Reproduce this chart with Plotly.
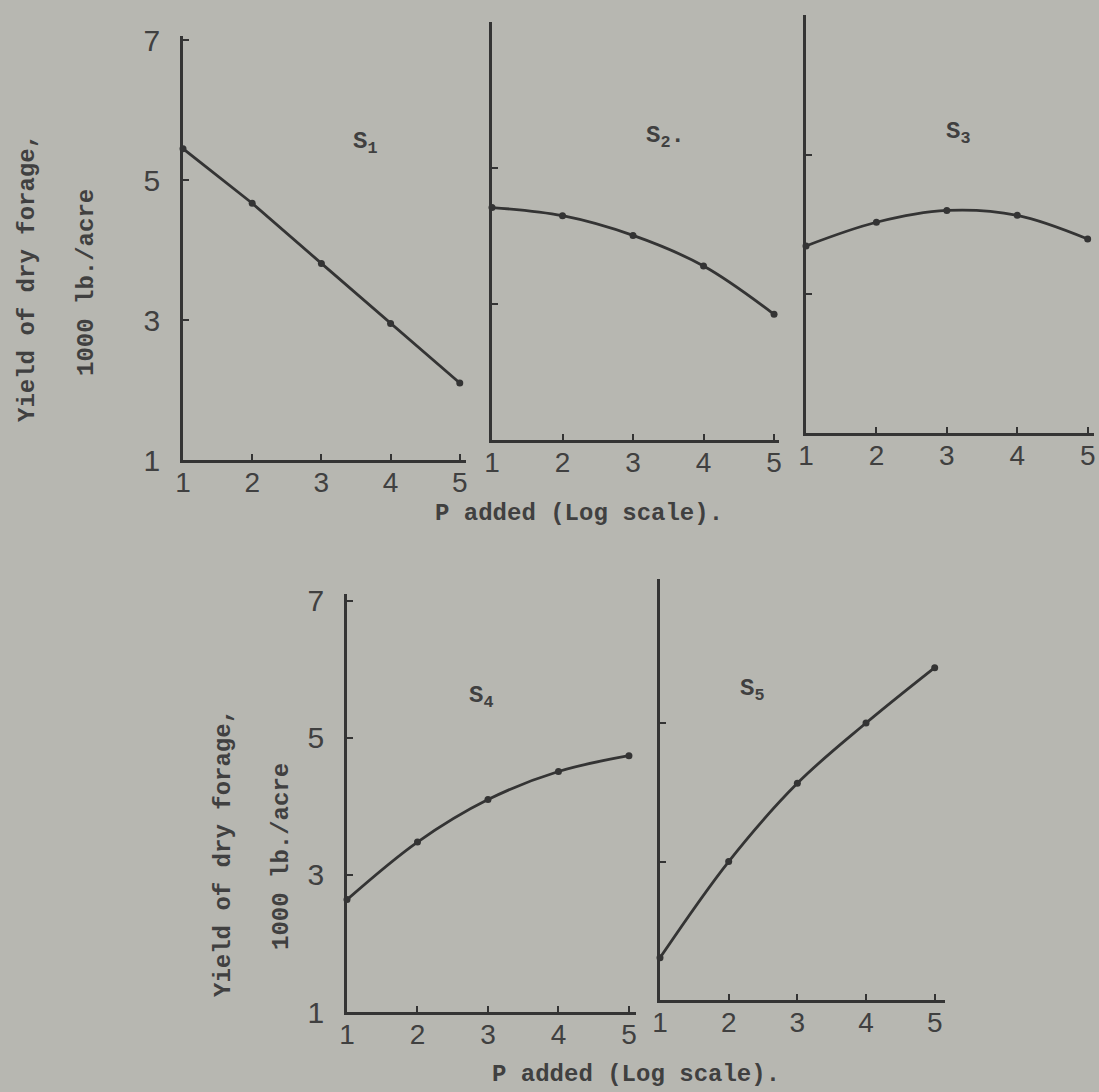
import plotly.graph_objects as go

# ---------------- data ----------------
p_added = [1, 2, 3, 4, 5]
yield_s1 = [5.45, 4.67, 3.81, 2.95, 2.10]
yield_s2 = [4.42, 4.30, 4.01, 3.56, 2.85]
yield_s3 = [3.69, 4.03, 4.20, 4.13, 3.79]
yield_s4 = [2.64, 3.48, 4.10, 4.51, 4.74]
yield_s5 = [1.61, 3.00, 4.13, 5.00, 5.80]
series_names = ["S<sub>1</sub>", "S<sub>2</sub>.", "S<sub>3</sub>", "S<sub>4</sub>", "S<sub>5</sub>"]
x_tick_vals = [1, 2, 3, 4, 5]
x_tick_text = ["1", "2", "3", "4", "5"]
y_tick_vals_labelled = [1, 3, 5, 7]
y_tick_text = ["1", "3", "5", "7"]
y_tick_vals_plain = [3, 5]
x_title = "P added (Log scale)."
y_title_1 = "Yield of dry forage,"
y_title_2 = "1000 lb./acre"

# ---------------- styling ----------------
W, H = 1099, 1092
BG = "#b7b7b1"
INK = "#343434"
TEXT = "#404040"
TYPE = "Liberation Mono"
HAND = "Liberation Sans"


def fx(px):
    return px / W


def fy(py):
    return 1 - py / H


# panel geometry in pixels: x-domain (left,right), y-domain (top,bottom), ranges
panels = [
    dict(data=yield_s1, xd=(183, 466), yd=(36, 460), xr=[1, 5.09], yr=[1, 7.06],
         labels=True, shape="linear", name_at=(365, 143)),
    dict(data=yield_s2, xd=(492, 779), yd=(22, 440), xr=[1, 5.07], yr=[1, 7.15],
         labels=False, shape="spline", name_at=(665, 137)),
    dict(data=yield_s3, xd=(806, 1094), yd=(15, 433), xr=[1, 5.09], yr=[1, 7.01],
         labels=False, shape="spline", name_at=(958, 133)),
    dict(data=yield_s4, xd=(347, 636), yd=(594, 1012), xr=[1, 5.1], yr=[1, 7.1],
         labels=True, shape="spline", name_at=(481, 697)),
    dict(data=yield_s5, xd=(660, 945), yd=(579, 1000), xr=[1, 5.15], yr=[1, 7.08],
         labels=False, shape="spline", name_at=(752, 690)),
]

fig = go.Figure()
layout = dict(
    width=W, height=H,
    margin=dict(l=0, r=0, t=0, b=0, autoexpand=False),
    paper_bgcolor=BG, plot_bgcolor=BG,
    showlegend=False,
    font=dict(family=HAND, color=TEXT),
)
annotations = []

for i, pnl in enumerate(panels):
    k = "" if i == 0 else str(i + 1)
    xa, ya = "x" + k, "y" + k
    fig.add_trace(go.Scatter(
        x=p_added, y=pnl["data"], xaxis=xa, yaxis=ya,
        mode="lines+markers",
        line=dict(color=INK, width=2.8, shape=pnl["shape"], smoothing=1.0),
        marker=dict(color=INK, size=7),
        cliponaxis=False, hoverinfo="skip",
    ))
    layout["xaxis" + k] = dict(
        domain=[fx(pnl["xd"][0]), fx(pnl["xd"][1])],
        anchor=ya, range=pnl["xr"], automargin=False,
        showgrid=False, zeroline=False,
        showline=True, linecolor=INK, linewidth=2.8,
        ticks="inside", ticklen=6, tickwidth=2, tickcolor=INK,
        tickvals=x_tick_vals, ticktext=x_tick_text,
        tickfont=dict(family=HAND, size=28, color=TEXT),
        ticklabelstandoff=-5,
    )
    yax = dict(
        domain=[fy(pnl["yd"][1]), fy(pnl["yd"][0])],
        anchor=xa, range=pnl["yr"], automargin=False,
        showgrid=False, zeroline=False,
        showline=True, linecolor=INK, linewidth=2.8,
        ticks="inside", ticklen=6, tickwidth=2, tickcolor=INK,
    )
    if pnl["labels"]:
        yax.update(tickvals=y_tick_vals_labelled, ticktext=y_tick_text,
                   tickfont=dict(family=HAND, size=30, color=TEXT),
                   ticklabelstandoff=14)
    else:
        yax.update(tickvals=y_tick_vals_plain, showticklabels=False)
    layout["yaxis" + k] = yax

    annotations.append(dict(
        text=series_names[i], x=fx(pnl["name_at"][0]), y=fy(pnl["name_at"][1]),
        xref="paper", yref="paper", showarrow=False,
        xanchor="center", yanchor="middle",
        font=dict(family=TYPE, size=24, color=TEXT, weight="bold"),
    ))

# axis titles (typewritten)
for (cx, cy) in [(579, 513), (636, 1074)]:
    annotations.append(dict(
        text=x_title, x=fx(cx), y=fy(cy), xref="paper", yref="paper",
        showarrow=False, xanchor="center", yanchor="middle",
        font=dict(family=TYPE, size=24, color=TEXT, weight="bold"),
    ))
for (cx, cy, txt) in [(27, 278, y_title_1), (87, 283, y_title_2),
                      (223, 853, y_title_1), (281, 857, y_title_2)]:
    annotations.append(dict(
        text=txt, x=fx(cx), y=fy(cy), xref="paper", yref="paper",
        showarrow=False, textangle=-90, xanchor="center", yanchor="middle",
        font=dict(family=TYPE, size=24, color=TEXT, weight="bold"),
    ))

layout["annotations"] = annotations
fig.update_layout(**layout)
fig.write_html("out.html")
